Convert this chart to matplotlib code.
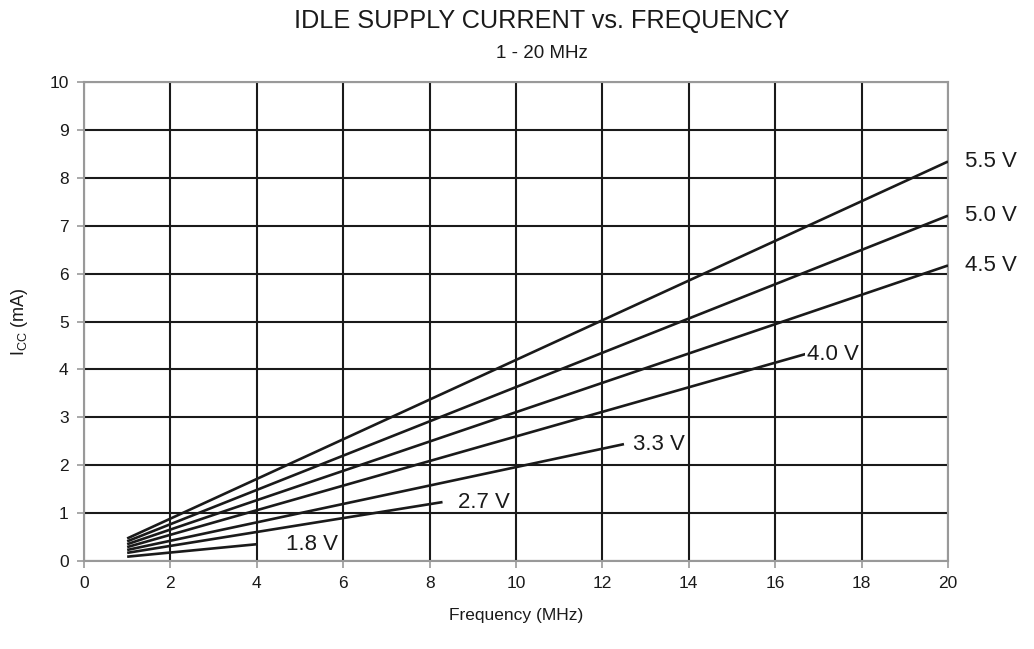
import matplotlib
matplotlib.use("Agg")
import matplotlib.pyplot as plt

# Supply voltage curves: frequency range (MHz) and current (mA) at each end
voltages = ["5.5 V", "5.0 V", "4.5 V", "4.0 V", "3.3 V", "2.7 V", "1.8 V"]
f_start = [1, 1, 1, 1, 1, 1, 1]
f_end = [20, 20, 20, 16.7, 12.5, 8.3, 4.0]
icc_start = [0.47, 0.41, 0.35, 0.29, 0.23, 0.17, 0.09]
icc_end = [8.34, 7.21, 6.17, 4.32, 2.44, 1.23, 0.35]

x_ticks = list(range(0, 21, 2))
y_ticks = list(range(0, 11))

# horizontal gap between each curve end and its label (MHz)
label_gap = [0.39, 0.39, 0.39, 0.03, 0.21, 0.35, 0.67]

plt.rcParams["font.family"] = ["Liberation Sans", "DejaVu Sans"]
ink = "#1a1a1a"

fig = plt.figure(figsize=(10.34, 6.49), dpi=100)
ax = fig.add_axes([0.0812, 0.1356, 0.8356, 0.738])

ax.set_xlim(0, 20)
ax.set_ylim(0, 10)
ax.set_xticks(x_ticks)
ax.set_yticks(y_ticks)
ax.grid(True, color=ink, linewidth=1.5)
ax.set_axisbelow(True)

for s in ax.spines.values():
    s.set_color("#999999")
    s.set_linewidth(1.5)
ax.tick_params(axis="both", colors="#999999", length=5, width=1.2,
               labelcolor=ink, labelsize=12.5, pad=6)

for v, x0, x1, y0, y1, gap in zip(voltages, f_start, f_end, icc_start,
                                   icc_end, label_gap):
    ax.plot([x0, x1], [y0, y1], color=ink, linewidth=1.9,
            solid_capstyle="butt", zorder=3)
    box = dict(facecolor="white", edgecolor="none", pad=1) if v == "4.0 V" else None
    ax.text(x1 + gap, y1, v, fontsize=16, color=ink, va="center", ha="left",
            zorder=4, clip_on=False, bbox=box)

ax.set_xlabel("Frequency (MHz)", fontsize=12.5, color=ink, labelpad=12)
ax.set_ylabel(r"I$_{\mathregular{CC}}$ (mA)", fontsize=13, color=ink, labelpad=14)

fig.text(0.524, 0.9576, "IDLE SUPPLY CURRENT vs. FREQUENCY", fontsize=18.2,
         ha="center", va="baseline", color=ink)
fig.text(0.524, 0.9106, "1 - 20 MHz", fontsize=13.5, ha="center",
         va="baseline", color=ink)

fig.savefig("out.png", dpi=100)
